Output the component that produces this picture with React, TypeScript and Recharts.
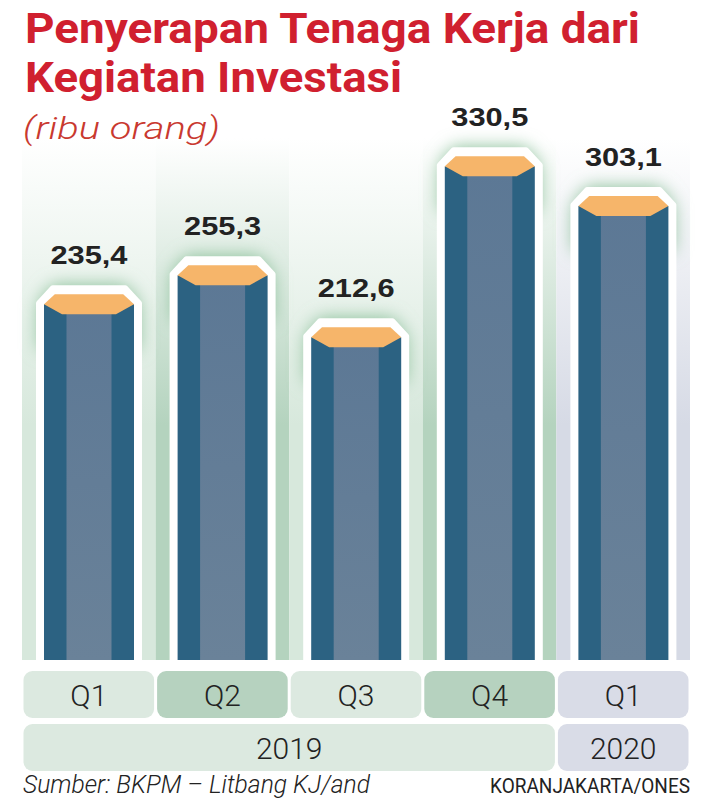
import { Bar, ComposedChart, LabelList, ReferenceArea, XAxis, YAxis } from 'recharts'

const quarters = ['Q1', 'Q2', 'Q3', 'Q4', 'Q1']
const years = ['2019', '2019', '2019', '2019', '2020']
const values = [235.4, 255.3, 212.6, 330.5, 303.1]

const Y_MIN = -10
const Y_MAX = 350

const data = quarters.map((q, i) => ({
  key: `${q}-${years[i]}`,
  quarter: q,
  year: years[i],
  value: values[i],
}))

const LIGHT = '#d7e8dc'
const DARK = '#b4d3be'
const GREY = '#d6dae5'

function columnTone(i: number): 'light' | 'dark' | 'grey' {
  if (years[i] !== years[0]) return 'grey'
  return i % 2 === 0 ? 'light' : 'dark'
}

const toneColor = { light: LIGHT, dark: DARK, grey: GREY }
const boxColor = { light: '#dce9e0', dark: '#b6d2bf', grey: '#d9dce7' }

function formatValue(v: number): string {
  return v.toFixed(1).replace('.', ',')
}

function HexBar(props: any) {
  const { x, y, width, height } = props
  if (x == null || y == null) return null
  const bottom = y + height
  const ti = width * 0.12
  const bi = width * 0.2
  const capTop = y - 10
  const capBot = y + 10
  const o = 5
  const outline = [
    [x - o, bottom],
    [x - o, y - 1],
    [x + ti - 2, capTop - o - 1],
    [x + width - ti + 2, capTop - o - 1],
    [x + width + o, y - 1],
    [x + width + o, bottom],
  ]
  const glow = [
    [x - o, y + 45],
    [x - o, y - 1],
    [x + ti - 2, capTop - o - 4],
    [x + width - ti + 2, capTop - o - 4],
    [x + width + o, y - 1],
    [x + width + o, y + 45],
  ]
  const cap = [
    [x, y],
    [x + ti, capTop],
    [x + width - ti, capTop],
    [x + width, y],
    [x + width - bi, capBot],
    [x + bi, capBot],
  ]
  const pts = (p: number[][]) => p.map((c) => c.join(',')).join(' ')
  return (
    <g>
      <polygon points={pts(glow)} fill="#86bd95" opacity={1} filter="url(#glow)" />
      <polygon points={pts(outline)} fill="#ffffff" stroke="#ffffff" strokeWidth={6} strokeLinejoin="round" />
      <rect x={x} y={y} width={width} height={height} fill="#2c6282" />
      <rect x={x + width * 0.25} y={y} width={width * 0.5} height={height} fill="url(#barMid)" />
      <polygon points={pts(cap)} fill="#f6b56a" />
    </g>
  )
}

function ValueLabel(props: any) {
  const { x, y, width, index } = props
  return (
    <text
      x={x + width / 2}
      y={y - 40}
      textAnchor="middle"
      fontFamily="'Liberation Sans', Arial, sans-serif"
      fontWeight="bold"
      fontSize={26}
      fill="#222222"
      textLength={77}
      lengthAdjust="spacingAndGlyphs"
    >
      {formatValue(values[index])}
    </text>
  )
}

function QuarterTick(props: any) {
  const { x, y, payload } = props
  const i = payload.index
  const half = payload.offset || 66.8
  return (
    <g>
      <rect
        x={x - half + 1.5}
        y={y + 11}
        width={half * 2 - 3}
        height={47}
        rx={9}
        fill={boxColor[columnTone(i)]}
      />
      <text
        x={x}
        y={y + 46}
        textAnchor="middle"
        fontFamily="Roboto, sans-serif"
        fontWeight={300}
        fontSize={30}
        fill="#222222"
      >
        {quarters[i]}
      </text>
    </g>
  )
}

function YearTick(props: any) {
  const { x, y, payload } = props
  const i = payload.index
  if (i > 0 && years[i] === years[i - 1]) return null
  let span = 1
  while (i + span < years.length && years[i + span] === years[i]) span++
  const half = payload.offset || 66.8
  const left = x - half + 1.5
  const w = half * 2 * span - 3
  return (
    <g>
      <rect x={left} y={y + 4} width={w} height={47} rx={9} fill={boxColor[columnTone(i)]} />
      <text
        x={left + w / 2}
        y={y + 39}
        textAnchor="middle"
        fontFamily="Roboto, sans-serif"
        fontWeight={300}
        fontSize={30}
        fill="#222222"
      >
        {years[i]}
      </text>
    </g>
  )
}

export default function App() {
  return (
    <div style={{ position: 'absolute', left: 0, top: 0, width: 704, height: 800, background: '#fff' }}>
      <ComposedChart
        width={704}
        height={800}
        data={data}
        margin={{ top: 138, right: 14, left: 22, bottom: 28 }}
      >
        <defs>
          <filter id="glow" x="-50%" y="-50%" width="200%" height="200%">
            <feGaussianBlur stdDeviation="9" />
          </filter>
          <linearGradient id="barMid" x1="0" y1="0" x2="0" y2="1">
            <stop offset="0%" stopColor="#5c7895" />
            <stop offset="100%" stopColor="#6a8299" />
          </linearGradient>
          {(['light', 'dark', 'grey'] as const).map((t) => (
            <linearGradient key={t} id={`stripe-${t}`} x1="0" y1="0" x2="0" y2="1">
              <stop offset="0%" stopColor="#ffffff" />
              <stop offset="55%" stopColor={toneColor[t]} />
              <stop offset="100%" stopColor={toneColor[t]} />
            </linearGradient>
          ))}
        </defs>
        <XAxis
          dataKey="key"
          height={60}
          axisLine={false}
          tickLine={false}
          tickSize={0}
          tickMargin={0}
          interval={0}
          tick={<QuarterTick />}
        />
        <XAxis
          xAxisId="year"
          dataKey="key"
          height={52}
          axisLine={false}
          tickLine={false}
          tickSize={0}
          tickMargin={0}
          interval={0}
          tick={<YearTick />}
        />
        <YAxis hide domain={[Y_MIN, Y_MAX]} />
        {data.map((d, i) => (
          <ReferenceArea
            key={d.key}
            x1={d.key}
            x2={d.key}
            fill={`url(#stripe-${columnTone(i)})`}
            fillOpacity={1}
            stroke="none"
          />
        ))}
        <Bar
          dataKey={(d: any) => [Y_MIN, d.value]}
          barSize={90}
          shape={HexBar}
          isAnimationActive={false}
        >
          <LabelList content={ValueLabel} />
        </Bar>
      </ComposedChart>
      <svg
        width={704}
        height={800}
        style={{ position: 'absolute', left: 0, top: 0, pointerEvents: 'none' }}
      >
        <text
          x={25}
          y={43}
          fontFamily="Roboto, sans-serif"
          fontWeight="bold"
          fontSize={43}
          fill="#d0202f"
          textLength={615}
          lengthAdjust="spacingAndGlyphs"
        >
          Penyerapan Tenaga Kerja dari
        </text>
        <text
          x={25}
          y={92}
          fontFamily="Roboto, sans-serif"
          fontWeight="bold"
          fontSize={43}
          fill="#d0202f"
          textLength={377}
          lengthAdjust="spacingAndGlyphs"
        >
          Kegiatan Investasi
        </text>
        <text
          x={23}
          y={139}
          fontFamily="Roboto, sans-serif"
          fontWeight={300}
          fontStyle="italic"
          fontSize={31}
          fill="#c9392f"
          textLength={197}
          lengthAdjust="spacingAndGlyphs"
        >
          (ribu orang)
        </text>
        <text
          x={23}
          y={793}
          fontFamily="Roboto, sans-serif"
          fontWeight={300}
          fontStyle="italic"
          fontSize={26}
          fill="#222222"
          textLength={347}
          lengthAdjust="spacingAndGlyphs"
        >
          Sumber: BKPM – Litbang KJ/and
        </text>
        <text
          x={490}
          y={793}
          fontFamily="Roboto, sans-serif"
          fontWeight={400}
          fontSize={20}
          fill="#222222"
          textLength={200}
          lengthAdjust="spacingAndGlyphs"
        >
          KORANJAKARTA/ONES
        </text>
      </svg>
    </div>
  )
}
